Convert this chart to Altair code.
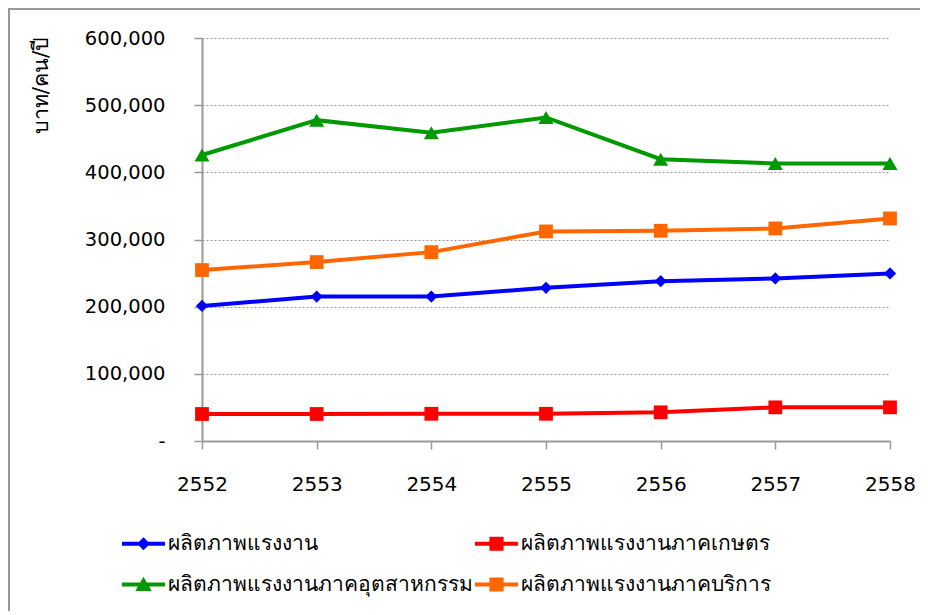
import altair as alt
import pandas as pd

years = [2552, 2553, 2554, 2555, 2556, 2557, 2558]
series_names = [
    "ผลิตภาพแรงงาน",
    "ผลิตภาพแรงงานภาคอุตสาหกรรม",
    "ผลิตภาพแรงงานภาคเกษตร",
    "ผลิตภาพแรงงานภาคบริการ",
]
total = [201000, 215000, 215000, 228000, 238000, 242000, 249500]
industry = [425800, 477700, 458800, 481700, 419600, 413200, 413200]
agri = [40200, 40200, 40500, 40500, 42700, 50100, 50100]
services = [254500, 266400, 281200, 312000, 313000, 316500, 331400]
series_values = [total, industry, agri, services]

colors = ["#0000FF", "#009900", "#FF0000", "#FF6600"]
marker_shapes = ["diamond", "triangle-up", "square", "square"]
marker_sizes = [150, 225, 190, 190]
draw_order = [2, 0, 3, 1]  # agri, total, services, industry

LINE = "M-1,-0.093H1V0.093H-1Z"
legend_shapes = [
    LINE + "M0,-0.3L0.3,0L0,0.3L-0.3,0Z",
    LINE + "M0,-0.36L0.38,0.3H-0.38Z",
    LINE + "M-0.33,-0.33H0.33V0.33H-0.33Z",
    LINE + "M-0.33,-0.33H0.33V0.33H-0.33Z",
]

rows = []
for name, vals in zip(series_names, series_values):
    for y, v in zip(years, vals):
        rows.append({"year": y, "value": v, "series": name})
df = pd.DataFrame(rows)

FONT = "Tahoma, DejaVu Sans, sans-serif"

x_enc = alt.X(
    "year:Q",
    scale=alt.Scale(domain=[2552, 2558], nice=False, zero=False),
    axis=alt.Axis(
        values=years, format="d", title=None, grid=False,
        domainColor="#999999", domainWidth=2, tickColor="#999999",
        tickSize=8, tickWidth=1.5, labelFontSize=20, labelFont=FONT,
        labelColor="black", labelPadding=25, labelFlush=False,
    ),
)
y_enc = alt.Y(
    "value:Q",
    scale=alt.Scale(domain=[0, 600000], nice=False),
    axis=alt.Axis(
        values=[0, 100000, 200000, 300000, 400000, 500000, 600000],
        labelExpr="datum.value == 0 ? '-' : format(datum.value, ',')",
        title="บาท/คน/ปี", titleFont=FONT, titleFontSize=21.5,
        titleFontWeight="normal", titleColor="black",
        titleX=-161, titleY=47, titleAngle=270, titleAlign="center",
        titleBaseline="middle",
        grid=True, gridDash=[2, 2], gridColor="#999999", gridWidth=1,
        domainColor="#999999", domainWidth=2, tickColor="#999999",
        tickSize=8, tickWidth=1.5, labelFontSize=19.5, labelFont=FONT,
        labelColor="black", labelPadding=29,
    ),
)

frame_data = alt.Data(values=[{}])
frame_left = alt.Chart(frame_data).mark_rule(stroke="#999999", strokeWidth=2).encode(
    x=alt.value(-193), y=alt.value(-29), y2=alt.value(900)
)
frame_top = alt.Chart(frame_data).mark_rule(stroke="#999999", strokeWidth=2).encode(
    x=alt.value(-194), x2=alt.value(1200), y=alt.value(-29)
)

layers = [frame_left, frame_top]
base = alt.Chart(df)
for i in draw_order:
    layers.append(
        base.transform_filter(alt.datum.series == series_names[i])
        .mark_line(strokeWidth=4, color=colors[i])
        .encode(x=x_enc, y=y_enc)
    )
for i in draw_order:
    layers.append(
        base.transform_filter(alt.datum.series == series_names[i])
        .mark_point(filled=True, opacity=1, strokeWidth=0, color=colors[i],
                    shape=marker_shapes[i], size=marker_sizes[i])
        .encode(x="year:Q", y="value:Q")
    )

leg = dict(
    title=None, orient="none", legendX=-80, legendY=484, columns=2,
    columnPadding=2, rowPadding=9, symbolSize=1849, symbolOpacity=1,
    symbolStrokeWidth=0, labelFontSize=21, labelFont=FONT, labelColor="black",
    labelLimit=0, labelOffset=3,
)

legend_layer = base.mark_point(filled=True, opacity=0, size=1).encode(
    x="year:Q", y="value:Q",
    color=alt.Color("series:N", scale=alt.Scale(domain=series_names, range=colors),
                    legend=alt.Legend(**leg)),
    shape=alt.Shape("series:N", scale=alt.Scale(domain=series_names, range=legend_shapes),
                    legend=alt.Legend(**leg)),
)
layers.append(legend_layer)

chart = alt.layer(*layers).properties(
    width=688, height=403,
    autosize=alt.AutoSizeParams(type="none"),
    padding={"left": 194, "top": 30, "right": 30, "bottom": 170},
).configure_view(stroke=None)

chart.save("out.html", embed_options={"renderer": "svg", "actions": False})
